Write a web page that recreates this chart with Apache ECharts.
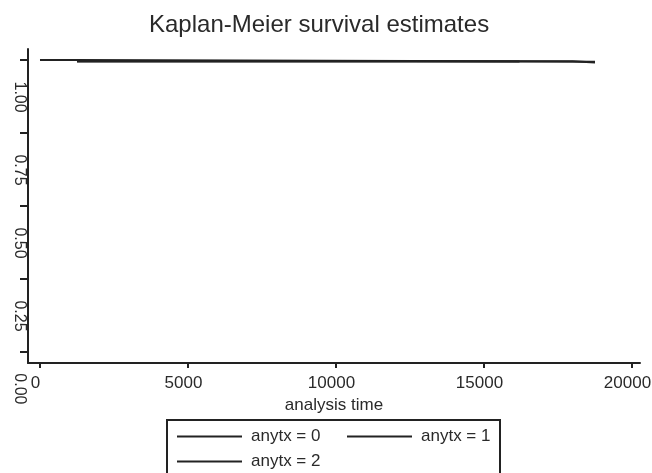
<!DOCTYPE html>
<html>
<head>
<meta charset="utf-8">
<script src="https://cdn.jsdelivr.net/npm/echarts@6/dist/echarts.min.js"></script>
<style>
html, body { margin: 0; padding: 0; background: #fff; }
#kmChart { width: 652px; height: 473px; }
</style>
</head>
<body>
<div id="kmChart"></div>
<script>
// survival curves (time, survival)
var groupNames = ['anytx = 0', 'anytx = 1', 'anytx = 2'];
var time0 = [0, 1250, 12500, 18750];
var surv0 = [1, 0.997, 0.994, 0.994];
var time1 = [1250, 14500, 16200];
var surv1 = [0.995, 0.995, 0.995];
var time2 = [1250, 12500, 18000, 18750];
var surv2 = [0.996, 0.996, 0.992, 0.992];

var xTicks = [0, 5000, 10000, 15000, 20000];
var yTicks = [0, 0.25, 0.5, 0.75, 1];

var ink = '#222';

function pairs(t, s) {
    var out = [];
    for (var i = 0; i < t.length; i++) {
        out.push([t[i], s[i]]);
    }
    return out;
}

var kmDom = document.getElementById("kmChart");
var myKmChart = echarts.init(kmDom);

var kmOption = {
    animation: false,
    title: {
        text: 'Kaplan-Meier survival estimates',
        left: 144,
        top: 8,
        textStyle: {
            fontFamily: 'Liberation Sans',
            fontSize: 24,
            fontWeight: 'normal',
            color: '#2a2a2a'
        }
    },
    legend: {
        data: groupNames,
        left: 167,
        top: 420,
        orient: 'horizontal',
        width: 345,
        icon: 'rect',
        itemWidth: 65,
        itemHeight: 2,
        itemGap: 8,
        padding: [8, -9, 8, 10],
        borderColor: ink,
        borderWidth: 2,
        textStyle: {
            fontFamily: 'Liberation Sans',
            fontSize: 17,
            color: '#2a2a2a',
            width: 88,
            lineHeight: 16,
            padding: [0, 0, 0, 4]
        }
    },
    grid: {
        left: 28,
        right: 12,
        top: 49,
        bottom: 110,
        outerBoundsMode: 'none'
    },
    xAxis: {
        type: 'value',
        min: -405,
        max: 20270,
        name: 'analysis time',
        nameLocation: 'middle',
        nameGap: 31,
        nameTextStyle: {
            fontFamily: 'Liberation Sans',
            fontSize: 17,
            color: '#2a2a2a'
        },
        axisLine: { show: true, onZero: false, lineStyle: { color: ink, width: 2 } },
        axisTick: { show: true, length: 5, customValues: xTicks, lineStyle: { color: ink, width: 2 } },
        axisLabel: {
            customValues: xTicks,
            margin: 12,
            padding: [0, 9, 0, 0],
            fontFamily: 'Liberation Sans',
            fontSize: 17,
            color: '#2a2a2a',
            formatter: function (v) { return String(v); }
        },
        splitLine: { show: false }
    },
    yAxis: {
        type: 'value',
        min: -0.038,
        max: 1.038,
        axisLine: { show: true, onZero: false, lineStyle: { color: ink, width: 2 } },
        axisTick: { show: true, length: 8, customValues: yTicks, lineStyle: { color: ink, width: 2 } },
        axisLabel: {
            customValues: yTicks,
            rotate: -90,
            margin: 1,
            padding: [0, 0, 0, 74],
            fontFamily: 'Liberation Sans',
            fontSize: 16,
            color: '#2a2a2a',
            formatter: function (v) { return v.toFixed(2); }
        },
        splitLine: { show: false }
    },
    series: [{
        name: groupNames[0],
        type: 'line',
        step: 'end',
        showSymbol: false,
        symbol: 'none',
        lineStyle: { color: ink, width: 2 },
        itemStyle: { color: ink },
        data: pairs(time0, surv0)
    }, {
        name: groupNames[1],
        type: 'line',
        step: 'end',
        showSymbol: false,
        symbol: 'none',
        lineStyle: { color: ink, width: 2 },
        itemStyle: { color: ink },
        data: pairs(time1, surv1)
    }, {
        name: groupNames[2],
        type: 'line',
        step: 'end',
        showSymbol: false,
        symbol: 'none',
        lineStyle: { color: ink, width: 2 },
        itemStyle: { color: ink },
        data: pairs(time2, surv2)
    }]
};

if (kmOption && typeof kmOption === "object") {
    myKmChart.setOption(kmOption, true);
}
</script>
</body>
</html>
